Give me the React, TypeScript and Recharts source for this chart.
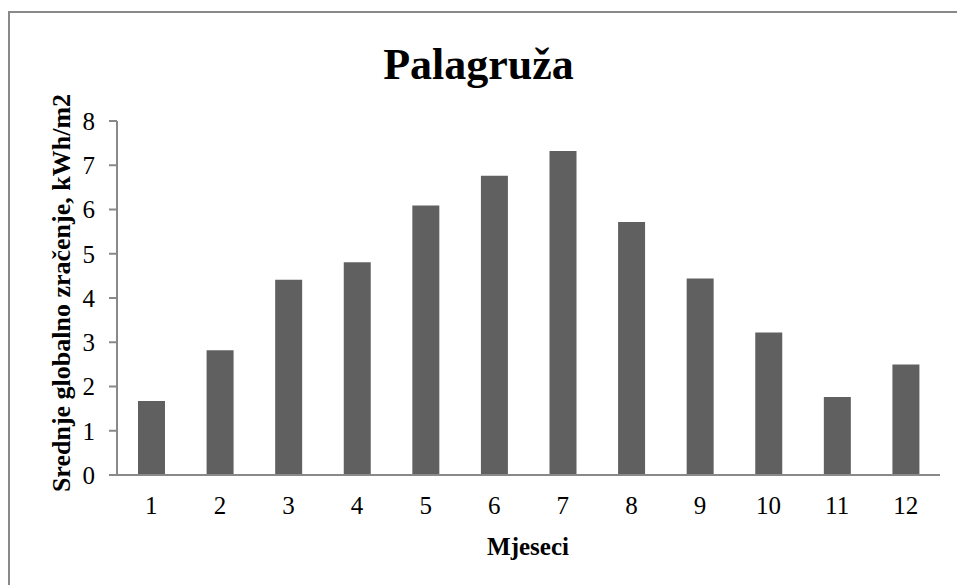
import React from 'react';
import { BarChart, Bar, XAxis, YAxis } from 'recharts';

const months = ['1', '2', '3', '4', '5', '6', '7', '8', '9', '10', '11', '12'];
const radiation = [1.67, 2.82, 4.41, 4.81, 6.09, 6.76, 7.32, 5.72, 4.44, 3.22, 1.76, 2.5];
const yTicks = [0, 1, 2, 3, 4, 5, 6, 7, 8];

const chartTitle = 'Palagruža';
const xTitle = 'Mjeseci';
const yTitle = 'Srednje globalno zračenje, kWh/m2';

const data = months.map((m, i) => ({ month: m, value: radiation[i] }));

const FONT = '"Liberation Serif", "Times New Roman", Times, serif';
const AXIS = '#898989';

export default function App() {
  return (
    <div
      style={{
        position: 'absolute',
        left: 0,
        top: 0,
        width: 957,
        height: 585,
        background: '#fff',
        fontFamily: FONT,
        overflow: 'hidden',
      }}
    >
      <div
        style={{
          position: 'absolute',
          left: 8,
          top: 11,
          width: 960,
          height: 600,
          borderTop: `2px solid ${AXIS}`,
          borderLeft: `2px solid ${AXIS}`,
          boxSizing: 'border-box',
        }}
      />
      <div style={{ position: 'absolute', left: 0, top: 0 }}>
        <BarChart
          width={957}
          height={585}
          data={data}
          margin={{ top: 121, right: 17, left: 0, bottom: 0 }}
        >
          <XAxis
            dataKey="month"
            height={110}
            interval={0}
            tickLine={false}
            tickSize={0}
            tickMargin={21}
            axisLine={{ stroke: AXIS, strokeWidth: 2 }}
            tick={{ fill: '#000', fontSize: 25, fontFamily: FONT }}
          />
          <YAxis
            width={117}
            domain={[0, 8]}
            ticks={yTicks}
            interval={0}
            tickSize={8}
            tickMargin={14}
            tickLine={{ stroke: AXIS, strokeWidth: 2 }}
            axisLine={{ stroke: AXIS, strokeWidth: 2 }}
            tick={{ fill: '#000', fontSize: 25, fontFamily: FONT }}
          />
          <Bar dataKey="value" fill="#606060" barSize={27} isAnimationActive={false} />
        </BarChart>
      </div>
      <div
        style={{
          position: 'absolute',
          left: 0,
          width: 957,
          top: 37,
          textAlign: 'center',
          fontWeight: 'bold',
          fontSize: 44,
          lineHeight: '56px',
          color: '#000',
          fontFamily: FONT,
        }}
      >
        {chartTitle}
      </div>
      <div
        style={{
          position: 'absolute',
          left: 428,
          width: 200,
          top: 532,
          textAlign: 'center',
          fontWeight: 'bold',
          fontSize: 25,
          lineHeight: '30px',
          color: '#000',
          fontFamily: FONT,
        }}
      >
        {xTitle}
      </div>
      <div
        style={{
          position: 'absolute',
          left: 62 - 250,
          top: 293 - 15,
          width: 500,
          height: 30,
          lineHeight: '30px',
          textAlign: 'center',
          fontWeight: 'bold',
          fontSize: 26,
          color: '#000',
          fontFamily: FONT,
          transform: 'rotate(-90deg)',
          transformOrigin: '250px 15px',
          whiteSpace: 'nowrap',
        }}
      >
        {yTitle}
      </div>
    </div>
  );
}
